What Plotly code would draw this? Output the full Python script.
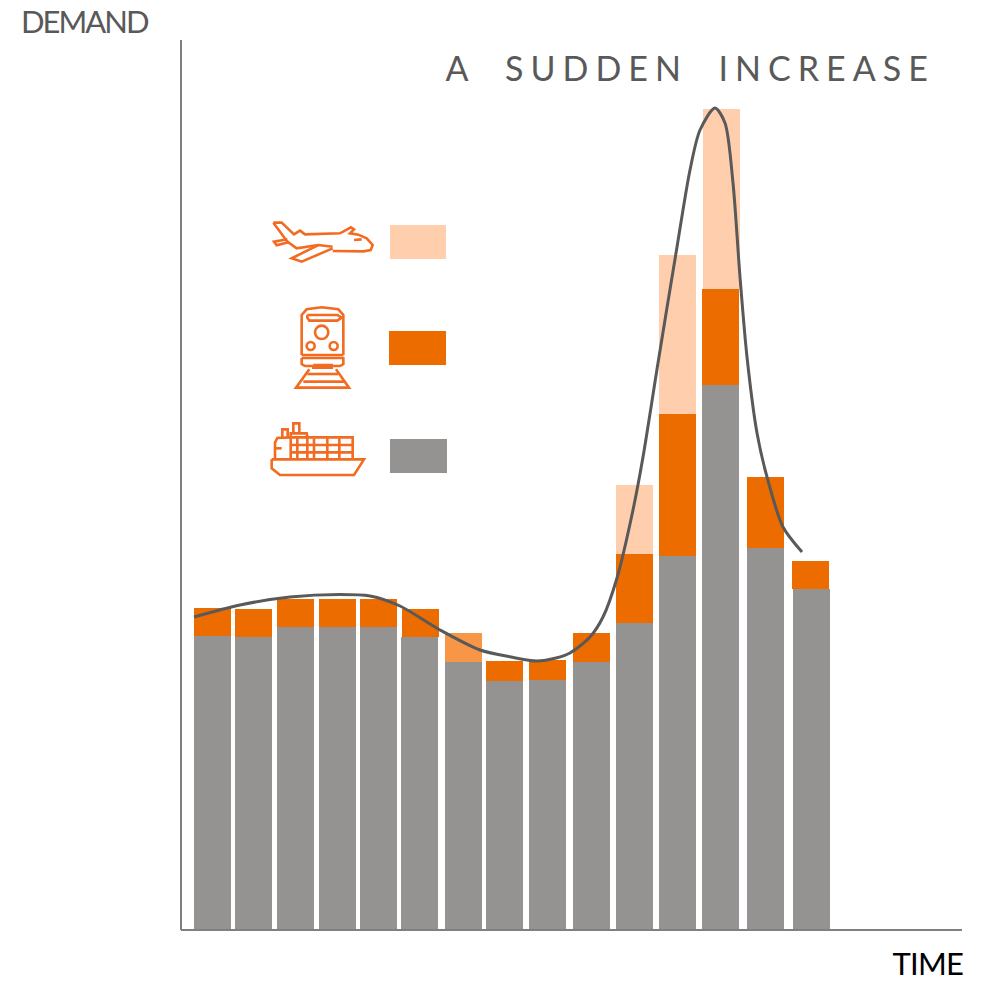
import plotly.graph_objects as go

# Chart values: positions along TIME and heights in DEMAND units
gray_left = [13, 54, 96, 138, 179, 220, 264, 305, 348, 392, 435, 478, 521, 566, 612]
orange_left = [13, 54, 96, 138, 179, 221, 264, 305, 348, 392, 435, 478, 521, 566, 611]
light_left = [435, 478, 522]
bar_width = [37] * 15
gray_demand = [294, 293, 303, 303, 303, 293, 268, 249, 250, 268, 307, 374, 545, 382, 341]
orange_demand = [28, 28, 28, 28, 28, 28, 29, 20, 20, 29, 69, 142, 96, 71, 28]
orange_colors = ["#EC6C00"] * 6 + ["#F79646"] + ["#EC6C00"] * 8
light_demand = [69, 159, 180]
light_base = [376, 516, 641]
curve_time = [13, 59, 109, 159, 189, 219, 259, 299, 330, 356, 375, 389, 409, 422, 436, 452, 462, 477, 496, 509, 519, 534, 544, 552, 559, 566, 576, 586, 602, 621]
curve_demand = [313, 325, 333, 335.5, 334, 324, 300, 280, 273, 269, 272, 277, 293, 313, 352, 420, 473, 567, 683, 760, 800, 822, 807, 747, 653, 573, 497, 453, 403, 378]

W, H = 981, 982
L, R, T, B = 181, 19, 40, 52
Y_MAX = H - B - T

ICON = "#F26B21"
GRAY = "#949391"
ORANGE = "#EC6C00"
LIGHT = "#FFCEAD"
TEXT = "#595959"
AXIS = "#808080"


def X(px):
    return px - L


def Y(py):
    return H - B - py


def zx(p):
    return X(250 + p / 3)


def zy(p):
    return Y(200 + p / 3)


def zpath(points, close=False):
    out = []
    for i, (a, b) in enumerate(points):
        out.append(f"{'M' if i == 0 else 'L'} {zx(a)} {zy(b)}")
    return " ".join(out) + (" Z" if close else "")


def zcircle(cx, cy, r):
    k = 0.5523 * r
    return (
        f"M {zx(cx - r)} {zy(cy)} "
        f"C {zx(cx - r)} {zy(cy - k)} {zx(cx - k)} {zy(cy - r)} {zx(cx)} {zy(cy - r)} "
        f"C {zx(cx + k)} {zy(cy - r)} {zx(cx + r)} {zy(cy - k)} {zx(cx + r)} {zy(cy)} "
        f"C {zx(cx + r)} {zy(cy + k)} {zx(cx + k)} {zy(cy + r)} {zx(cx)} {zy(cy + r)} "
        f"C {zx(cx - k)} {zy(cy + r)} {zx(cx - r)} {zy(cy + k)} {zx(cx - r)} {zy(cy)} Z"
    )


plane = [
    [(70, 68), (95, 68), (132, 103), (150, 92), (165, 103), (270, 100), (303, 82), (312, 88), (300, 100),
     (325, 104), (350, 115), (368, 135), (362, 150), (340, 154), (248, 153)],
    [(248, 140), (205, 135), (125, 175), (155, 185), (248, 145)],
    [(205, 135), (140, 145), (112, 125), (70, 68)],
    [(112, 118), (72, 125), (80, 136), (118, 126)],
    [(312, 120), (335, 118)],
]
train = [
    [(155, 465), (155, 345), (170, 328), (215, 322), (265, 328), (280, 345), (280, 465)],
    [(155, 465), (280, 465)],
    [(172, 345), (262, 345), (275, 353), (262, 362), (178, 362), (172, 353), (172, 345)],
    [(155, 474), (280, 474), (280, 492), (270, 498), (165, 498), (155, 492), (155, 474)],
    [(190, 495), (245, 495), (245, 503), (190, 503), (190, 495)],
    [(178, 508), (138, 563), (297, 563), (258, 508)],
    [(172, 522), (264, 522)],
    [(160, 545), (282, 545)],
]
ship = [
    [(65, 778), (342, 778), (312, 825), (90, 825), (65, 805), (65, 778)],
    [(75, 778), (75, 728), (82, 714), (122, 712)],
    [(97, 712), (97, 688), (113, 688), (113, 712)],
    [(130, 700), (130, 670), (148, 670), (148, 700)],
    [(122, 712), (122, 700), (170, 700), (172, 712)],
    [(122, 712), (308, 712), (308, 778)],
    [(122, 735), (308, 735)],
    [(122, 757), (308, 757)],
    [(75, 745), (95, 745)],
    [(122, 712), (122, 778)],
    [(142, 712), (142, 778)],
    [(172, 712), (172, 778)],
    [(192, 715), (192, 778)],
    [(232, 715), (232, 778)],
    [(268, 715), (268, 778)],
]

shapes = [
    dict(type="line", x0=0, x1=0, y0=0, y1=1, xref="paper", yref="paper",
         line=dict(color=AXIS, width=2), layer="above"),
    dict(type="line", x0=0, x1=1, y0=0, y1=0, xref="paper", yref="paper",
         line=dict(color=AXIS, width=2), layer="above"),
]
for group in (plane, train, ship):
    for seg in group:
        shapes.append(dict(type="path", path=zpath(seg), line=dict(color=ICON, width=2.6),
                           layer="above", xref="x", yref="y"))
for c in [(215, 397, 20), (182, 438, 12), (251, 438, 12)]:
    shapes.append(dict(type="path", path=zcircle(*c), line=dict(color=ICON, width=2.6),
                       layer="above", xref="x", yref="y"))
for (x0, x1, y0, y1, col) in [
    (390, 446, 225, 259, LIGHT),
    (389, 446, 331, 365, ORANGE),
    (390, 447, 439, 473, GRAY),
]:
    shapes.append(dict(type="rect", x0=X(x0), x1=X(x1), y0=Y(y1), y1=Y(y0), fillcolor=col,
                       line=dict(width=0), layer="above", xref="x", yref="y"))

fig = go.Figure()
fig.add_bar(x=[a + 18.5 for a in gray_left], y=gray_demand, width=bar_width,
            marker=dict(color=GRAY, line=dict(width=0)), name="Ship")
fig.add_bar(x=[a + 18.5 for a in light_left], y=light_demand, base=light_base, width=[37, 37, 37],
            marker=dict(color=LIGHT, line=dict(width=0)), name="Air")
fig.add_bar(x=[a + 18.5 for a in orange_left], y=orange_demand, base=gray_demand, width=bar_width,
            marker=dict(color=orange_colors, line=dict(width=0)), name="Rail")
fig.add_scatter(x=curve_time, y=curve_demand, mode="lines",
                line=dict(color=TEXT, width=3, shape="spline", smoothing=0.8), name="Demand")

fig.update_layout(
    width=W, height=H, autosize=False,
    margin=dict(l=L, r=R, t=T, b=B, pad=0),
    paper_bgcolor="white", plot_bgcolor="white",
    barmode="overlay", showlegend=False,
    xaxis=dict(range=[0, W - L - R], showgrid=False, zeroline=False, showticklabels=False, ticks="",
               showline=False),
    yaxis=dict(range=[0, Y_MAX], showgrid=False, zeroline=False, showticklabels=False, ticks="",
               showline=False),
    shapes=shapes,
    annotations=[
        dict(text="DEMAND", xref="paper", yref="paper", x=(84.5 - L) / 781, xanchor="center",
             y=1 + 19 / 890, yanchor="middle", showarrow=False,
             font=dict(family="Lato", size=31, color=TEXT)),
        dict(text="TIME", xref="paper", yref="paper", x=(927.5 - L) / 781, xanchor="center",
             y=-33 / 890, yanchor="middle", showarrow=False,
             font=dict(family="Lato", size=31, color="#000000")),
        dict(text="A SUDDEN INCREASE", xref="paper", yref="paper", x=(690 - L) / 781, xanchor="center",
             y=1 - 28 / 890, yanchor="middle", showarrow=False,
             font=dict(family="Lato", size=34, color=TEXT)),
    ],
)

post = """
document.documentElement.style.margin = '0';
document.body.style.margin = '0';
document.querySelectorAll('.annotation-text').forEach(function (t) {
  var s = t.textContent;
  if (s.indexOf('SUDDEN') >= 0) { t.style.letterSpacing = '7px'; t.style.wordSpacing = '15px'; }
  if (s === 'DEMAND') { t.style.letterSpacing = '-2px'; }
  if (s === 'TIME') { t.style.letterSpacing = '-0.7px'; }
});
"""
fig.write_html("out.html", post_script=post, config=dict(displayModeBar=False))
